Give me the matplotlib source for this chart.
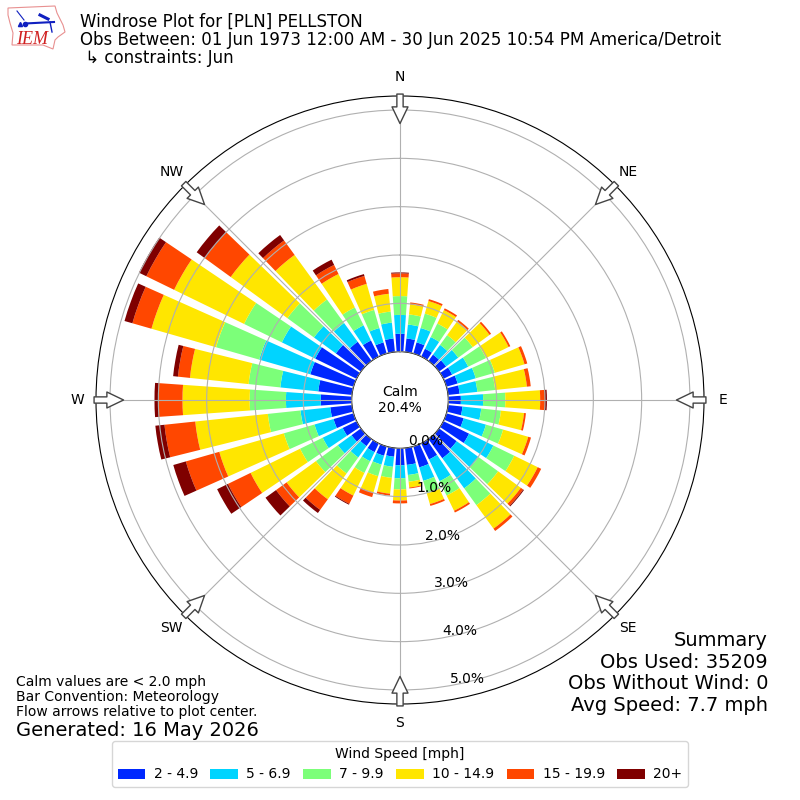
import numpy as np
import matplotlib
matplotlib.use("Agg")
import matplotlib.pyplot as plt
from matplotlib.lines import Line2D
from matplotlib.patches import Polygon

directions = np.arange(0, 360, 10)
speed_labels = ["2 - 4.9", "5 - 6.9", "7 - 9.9", "10 - 14.9", "15 - 19.9", "20+"]
speed_colors = ["#0028ff", "#00d4ff", "#7cff79", "#ffe600", "#ff4700", "#7f0000"]

# percent of obs per direction, one list per speed bin
bin_2_5 = [.37, .28, .24, .18, .16, .18, .20, .24, .24, .26, .30, .37, .59, .45, .49, .37, .45, .35,
           .35, .18, .20, .20, .18, .24, .32, .43, .45, .64, .70, .93, .95, .64, .49, .37, .24, .28]
bin_5_7 = [.39, .29, .31, .27, .25, .31, .37, .39, .37, .46, .39, .48, .56, .56, .77, .50, .29, .21,
           .27, .21, .19, .21, .29, .35, .46, .41, .62, .72, .79, 1.10, .77, .56, .48, .35, .31, .33]
bin_7_10 = [.39, .21, .31, .31, .25, .37, .41, .41, .37, .46, .41, .37, .48, .50, .43, .33, .27, .14,
            .23, .23, .25, .27, .41, .56, .52, .66, .68, .75, .66, .93, .87, .68, .60, .41, .39, .23]
bin_10_15 = [.39, .21, .27, .31, .35, .43, .52, .64, .66, .72, .48, .54, .54, .58, .60, .35, .23, .12,
             .23, .33, .35, .52, .66, .75, 1.14, 1.39, 1.51, 1.39, 1.22, 1.39, 1.61, 1.45, 1.14, .77, .56, .37]
bin_15_20 = [.08, .04, .04, .04, .04, .04, .04, .06, .08, .10, .04, .06, .08, .06, .06, .04, .04, .02,
             .06, .04, .10, .19, .27, .27, .52, .72, .64, .50, .25, .41, .64, .66, .37, .21, .17, .10]
bin_20_up = [.02, 0, 0, 0, 0, 0, 0, 0, 0, .04, 0, 0, 0, .02, 0, 0, 0, 0,
             0, 0, 0, .02, .08, .27, .25, .27, .19, .08, .10, .17, .17, .21, .14, .12, .04, 0]
speed_bins = [bin_2_5, bin_5_7, bin_7_10, bin_10_15, bin_15_20, bin_20_up]

compass_angles = np.arange(0, 360, 45)
compass_labels = ["N", "NE", "E", "SE", "S", "SW", "W", "NW"]
ring_ticks = [0, 1, 2, 3, 4, 5]

fig = plt.figure(figsize=(8, 8), dpi=100)
ax = fig.add_axes([0.12, 0.12, 0.76, 0.76], projection="polar")
ax.set_theta_zero_location("N")
ax.set_theta_direction(-1)
ax.set_rorigin(-1)
ax.set_ylim(0, 5.29)
ax.set_axisbelow(False)

theta = np.radians(directions)
base = np.zeros(len(directions))
for vals, label, color in zip(speed_bins, speed_labels, speed_colors):
    ax.bar(theta, vals, width=np.radians(8), bottom=base, color=color, label=label, linewidth=0)
    base = base + np.array(vals)

ax.set_xticks(np.radians(compass_angles))
ax.set_xticklabels(compass_labels, fontsize=10)
ax.tick_params(axis="x", pad=3)
ax.set_yticks(ring_ticks)
ax.set_yticklabels(["%.1f%%" % v for v in ring_ticks], fontsize=10)
ax.set_rlabel_position(170)

# flow arrows on the rim, pointing at the centre
for ang in compass_angles:
    ax.annotate("", xy=(np.radians(ang), 4.72), xytext=(np.radians(ang), 5.33),
                annotation_clip=False,
                arrowprops=dict(facecolor="white", edgecolor="#444444", width=4.5, headwidth=11.5,
                                headlength=12, shrink=0, linewidth=1))

ax.text(0.5, 0.5, "Calm\n20.4%", transform=ax.transAxes, ha="center", va="center", fontsize=10)

fig.text(0.1, 0.9665, "Windrose Plot for [PLN] PELLSTON", fontsize=12, va="baseline")
fig.text(0.1, 0.9435, "Obs Between: 01 Jun 1973 12:00 AM - 30 Jun 2025 10:54 PM America/Detroit",
         fontsize=12, va="baseline")
fig.text(0.1, 0.9215, " \u21b3 constraints: Jun", fontsize=12, va="baseline")

fig.text(0.96, 0.1062, "Summary\nObs Used: 35209\nObs Without Wind: 0\nAvg Speed: 7.7 mph",
         fontsize=14, ha="right", va="bottom", linespacing=1.17)
fig.text(0.02, 0.101, "Calm values are < 2.0 mph\nBar Convention: Meteorology\nFlow arrows relative to plot center.",
         fontsize=10, va="bottom", linespacing=1.1)
fig.text(0.02, 0.0755, "Generated: 16 May 2026", fontsize=14, va="bottom")

fig.legend(*ax.get_legend_handles_labels(), title="Wind Speed [mph]", ncol=6, loc="lower center",
           bbox_to_anchor=(0.5, 0.0075), fontsize=10, title_fontsize=10,
           columnspacing=0.88, handletextpad=0.6)

# IEM logo, drawn in figure pixels
logo = fig.add_axes([0, 0.9, 0.1, 0.1])
logo.set_xlim(0, 80)
logo.set_ylim(80, 0)
logo.axis("off")
outline = [(8, 8), (55, 6), (57, 13), (63, 25), (65, 32), (58, 37), (55, 40), (53, 49), (43, 45),
           (12, 45), (13, 33), (10, 23), (8, 15)]
logo.add_patch(Polygon(outline, closed=True, fill=False, edgecolor="#e89090", linewidth=0.8))
logo.add_line(Line2D([25, 54], [23.5, 22], color="#1020c0", linewidth=1.5))
logo.add_line(Line2D([17, 24], [11, 20], color="#1020c0", linewidth=0.8))
logo.add_line(Line2D([40, 48], [15, 19], color="#1020c0", linewidth=2.2))
logo.add_line(Line2D([50, 52], [22, 32], color="#1020c0", linewidth=1))
logo.add_line(Line2D([25], [23.5], marker="o", markersize=3, color="#1020c0"))
logo.add_line(Line2D([20], [24], marker="^", markersize=3, color="#1020c0"))
logo.text(16, 44, "IEM", color="#d02020", family="Liberation Serif", style="italic", fontsize=13, va="baseline")

fig.savefig("out.png", dpi=100)
